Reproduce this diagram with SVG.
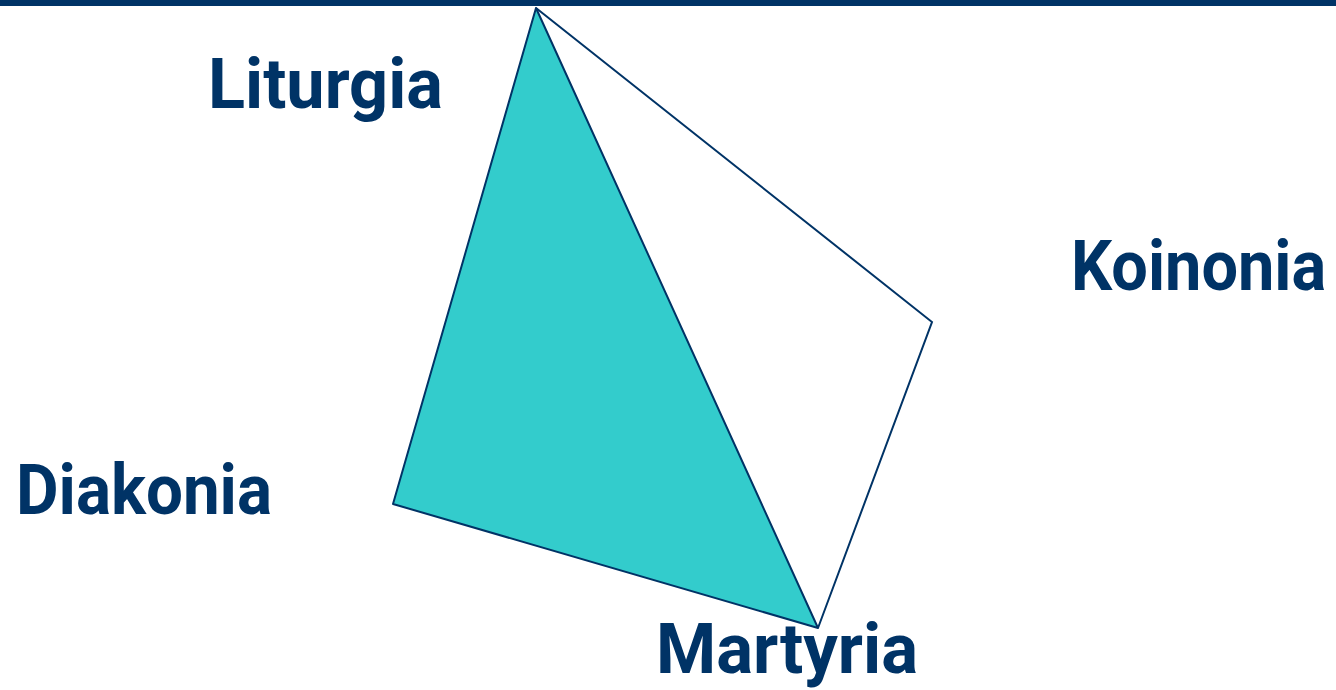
<svg xmlns="http://www.w3.org/2000/svg" width="1336" height="690" viewBox="0 0 1336 690">
<style>
.lbl{font-family:"Roboto","Liberation Sans",sans-serif;font-weight:bold;font-size:71px;fill:#003366}
.edge{fill:none;stroke:#003366;stroke-width:2}
</style>
<rect x="0" y="0" width="1336" height="6" fill="#003366"/>
<g id="connectors">
<polygon points="536,8 393,504 818,628" fill="#33CCCC" stroke="#003366" stroke-width="2" stroke-linejoin="round"/>
<polyline class="edge" points="536,8 932,322 818,628"/>
</g>
<g id="liturgia"><text class="lbl" x="208" y="108" textLength="235" lengthAdjust="spacingAndGlyphs">Liturgia</text></g>
<g id="koinonia" transform="translate(1071,290) scale(0.88,1)"><text class="lbl" x="0" y="0" textLength="290" lengthAdjust="spacingAndGlyphs">Koinonia</text></g>
<g id="diakonia"><text class="lbl" x="16" y="514" textLength="256" lengthAdjust="spacingAndGlyphs">Diakonia</text></g>
<g id="martyria"><text class="lbl" x="656" y="673" textLength="262" lengthAdjust="spacingAndGlyphs">Martyria</text></g>
</svg>
